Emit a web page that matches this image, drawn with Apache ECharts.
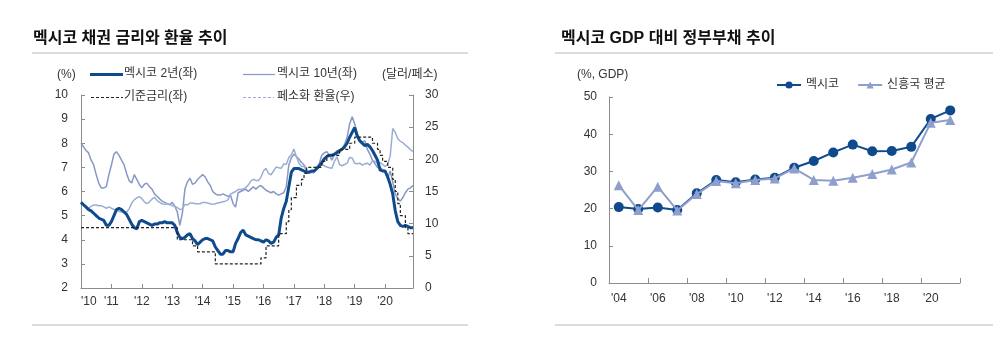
<!DOCTYPE html>
<html><head><meta charset="utf-8">
<script src="https://cdn.jsdelivr.net/npm/echarts@6/dist/echarts.min.js"></script>
<style>html,body{margin:0;padding:0;background:#fff}#c{width:1000px;height:338px}</style>
</head><body><div id="c"></div>
<script>
const FONT = '"Liberation Sans", Arial, "Noto Sans CJK KR", sans-serif';

// monthly categories Jan 2010 - Dec 2020
const months = [];
for (let y = 2010; y <= 2020; y++) for (let m = 1; m <= 12; m++) months.push(y + '-' + String(m).padStart(2, '0'));

// Mexico 2Y yield (%)
const mx2y = [
  5.55,5.45,5.35,5.25,5.20,5.10,5.00,4.90,4.85,4.80,4.60,4.60,
  4.75,5.00,5.25,5.30,5.25,5.15,5.05,4.85,4.65,4.50,4.45,4.75,
  4.80,4.75,4.70,4.65,4.60,4.65,4.65,4.70,4.70,4.75,4.70,4.70,
  4.70,4.60,4.30,4.10,4.05,4.10,4.20,4.25,4.05,3.95,3.80,3.90,
  4.00,4.05,4.05,4.00,3.95,3.70,3.55,3.40,3.40,3.55,3.55,3.50,
  3.50,3.85,4.05,4.30,4.40,4.20,4.15,4.10,4.05,4.00,4.00,3.95,
  3.90,4.00,3.95,3.85,3.90,4.10,4.20,4.90,5.30,5.60,6.20,6.80,
  6.95,6.95,6.95,6.90,6.85,6.80,6.80,6.85,6.85,6.95,7.05,7.20,
  7.35,7.45,7.50,7.50,7.55,7.60,7.70,7.75,7.85,8.00,8.25,8.45,
  8.65,8.30,8.10,8.00,7.90,7.95,7.85,7.70,7.50,7.30,6.90,6.85,
  6.85,6.60,6.30,5.90,5.20,4.75,4.60,4.55,4.60,4.55,4.50,4.50
];
// Mexico 10Y yield (%)
const mx10y = [
  8.00,7.85,7.70,7.60,7.30,7.10,6.70,6.35,6.15,6.15,6.20,6.70,
  7.10,7.55,7.65,7.50,7.30,7.10,6.75,6.45,6.35,6.70,6.50,6.30,
  6.15,6.30,6.35,6.20,6.10,5.90,5.80,5.70,5.60,5.55,5.50,5.45,
  5.55,5.40,5.15,4.60,5.10,6.10,6.40,6.55,6.30,6.35,6.50,6.60,
  6.70,6.60,6.40,6.25,6.00,5.90,5.85,5.85,5.90,5.85,5.80,5.85,
  5.50,5.35,5.95,6.00,6.05,6.10,6.00,6.10,6.20,6.10,6.20,6.25,
  6.15,6.05,6.00,5.95,6.00,5.90,5.85,5.90,5.95,6.20,7.10,7.40,
  7.55,7.45,7.35,7.20,7.10,6.90,6.80,6.80,6.80,7.00,7.15,7.50,
  7.60,7.65,7.50,7.30,7.55,7.70,7.60,7.75,7.95,8.25,8.80,9.10,
  8.80,8.40,8.15,8.05,8.10,7.75,7.55,7.30,7.15,7.00,7.00,6.90,
  6.80,6.55,6.85,6.40,5.90,5.70,5.60,5.75,5.95,6.10,6.15,6.25
];
// Banxico policy rate (%)
const policyRate = [
  4.5,4.5,4.5,4.5,4.5,4.5,4.5,4.5,4.5,4.5,4.5,4.5,
  4.5,4.5,4.5,4.5,4.5,4.5,4.5,4.5,4.5,4.5,4.5,4.5,
  4.5,4.5,4.5,4.5,4.5,4.5,4.5,4.5,4.5,4.5,4.5,4.5,
  4.5,4.5,4.0,4.0,4.0,4.0,4.0,4.0,3.75,3.75,3.5,3.5,
  3.5,3.5,3.5,3.5,3.5,3.0,3.0,3.0,3.0,3.0,3.0,3.0,
  3.0,3.0,3.0,3.0,3.0,3.0,3.0,3.0,3.0,3.0,3.0,3.25,
  3.25,3.75,3.75,3.75,3.75,3.75,4.25,4.25,4.25,4.75,5.25,5.75,
  5.75,6.25,6.25,6.5,6.75,7.0,7.0,7.0,7.0,7.0,7.0,7.25,
  7.25,7.5,7.5,7.5,7.5,7.5,7.75,7.75,7.75,7.75,8.0,8.0,
  8.25,8.25,8.25,8.25,8.25,8.25,8.25,8.0,8.0,7.75,7.5,7.25,
  7.25,7.0,7.0,6.5,6.0,5.5,5.0,5.0,4.5,4.25,4.25,4.25
];
// USD/MXN (right axis)
const usdMxn = [
  13.3,13.0,12.7,12.4,12.7,12.9,12.9,12.8,12.8,12.6,12.4,12.6,
  12.4,12.2,12.1,11.9,11.8,11.9,11.8,12.3,13.2,13.7,14.0,14.2,
  13.9,13.4,13.1,13.4,13.8,14.1,13.6,13.3,13.1,13.0,13.1,13.0,
  12.8,12.7,12.5,12.2,12.3,13.0,12.9,13.2,13.2,13.1,13.1,13.1,
  13.3,13.3,13.2,13.1,13.0,13.1,13.2,13.3,13.4,13.5,13.7,14.6,
  14.8,15.0,15.3,15.3,15.4,15.6,16.0,16.6,16.9,16.7,16.7,17.2,
  18.2,18.6,17.8,17.6,18.2,18.8,18.7,18.6,19.3,19.2,20.3,20.7,
  21.6,20.4,19.4,18.9,18.9,18.2,17.9,17.9,17.9,18.9,19.0,19.3,
  19.0,18.8,18.7,18.6,19.7,20.4,19.2,19.0,19.2,19.4,20.3,20.2,
  19.4,19.3,19.4,19.1,19.3,19.4,19.1,19.8,19.7,19.4,19.5,19.2,
  18.9,19.2,20.5,24.8,24.2,23.2,22.8,22.6,22.2,21.9,21.5,21.2
];

// Government debt to GDP (%)
const debtYears = ['2004','2005','2006','2007','2008','2009','2010','2011','2012','2013','2014','2015','2016','2017','2018','2019','2020','2021'];
const mexicoDebt = [20.4,19.9,20.3,19.6,24.1,27.7,27.1,27.8,28.3,31.0,32.8,35.1,37.2,35.4,35.5,36.6,44.1,46.4];
const emDebt     = [26.3,19.6,25.9,19.5,23.9,27.4,26.8,27.7,28.1,30.8,27.7,27.5,28.3,29.3,30.5,32.4,43.1,43.8];

const C_DARK = '#0e4a8c', C_10Y = '#8797c6', C_FX = '#9cadd5', C_EM = '#8f9fcd';
const AX = '#8c8c8c', TXT = '#333';

const chart = echarts.init(document.getElementById('c'), null, {renderer: 'canvas'});
const axisCommon = {
  axisLine: {show: true, lineStyle: {color: AX, width: 1}},
  axisTick: {show: true, inside: true, length: 4, lineStyle: {color: AX}},
  axisLabel: {color: TXT, fontSize: 12, fontFamily: FONT},
  splitLine: {show: false}
};
const legendCommon = {padding: 0, textStyle: {color: TXT, fontSize: 12, fontFamily: FONT}, selectedMode: false};
// left-chart legend: text from legend component, sample lines drawn below as graphics
const hiddenIcon = {itemStyle: {opacity: 0}};

function sampleLine(x1, x2, y, color, width, dash) {
  return {type: 'line', shape: {x1: x1, y1: y, x2: x2, y2: y},
    style: {stroke: color, lineWidth: width, lineDash: dash || null}, z: 10};
}

chart.setOption({
  animation: false,
  backgroundColor: '#fff',
  grid: [
    {left: 81, right: 587, top: 95, bottom: 50},
    {left: 609, right: 40, top: 97, bottom: 55}
  ],
  xAxis: [
    Object.assign({}, axisCommon, {
      type: 'category', gridIndex: 0, data: months, boundaryGap: false,
      axisTick: {show: true, inside: true, length: 4, lineStyle: {color: AX}, interval: (i) => i % 12 === 0},
      axisLabel: {color: TXT, fontSize: 12, fontFamily: FONT, margin: 8, alignMinLabel: 'left',
        interval: (i) => i % 12 === 0, formatter: (v) => "'" + v.slice(2, 4)}
    }),
    Object.assign({}, axisCommon, {
      type: 'category', gridIndex: 1, data: debtYears, boundaryGap: true,
      axisTick: {show: true, inside: true, length: 5, interval: 1, lineStyle: {color: AX}},
      axisLabel: {color: TXT, fontSize: 12, fontFamily: FONT, margin: 10, interval: 1, formatter: (v) => "'" + v.slice(2)}
    })
  ],
  yAxis: [
    Object.assign({}, axisCommon, {type: 'value', gridIndex: 0, position: 'left', min: 2, max: 10, interval: 1,
      axisLabel: {color: TXT, fontSize: 12, fontFamily: FONT, margin: 13}}),
    Object.assign({}, axisCommon, {type: 'value', gridIndex: 0, position: 'right', min: 0, max: 30, interval: 5,
      axisLabel: {color: TXT, fontSize: 12, fontFamily: FONT, margin: 12}}),
    Object.assign({}, axisCommon, {type: 'value', gridIndex: 1, position: 'left', min: 0, max: 50, interval: 10,
      axisLabel: {color: TXT, fontSize: 12, fontFamily: FONT, margin: 12}})
  ],
  legend: [
    Object.assign({}, legendCommon, {left: 89, top: 68, itemWidth: 30, itemHeight: 8,
      data: [Object.assign({name: '멕시코 2년(좌)', icon: 'rect'}, hiddenIcon)]}),
    Object.assign({}, legendCommon, {left: 242, top: 68, itemWidth: 30, itemHeight: 8,
      data: [Object.assign({name: '멕시코 10년(좌)', icon: 'rect'}, hiddenIcon)]}),
    Object.assign({}, legendCommon, {left: 89, top: 91, itemWidth: 30, itemHeight: 8,
      data: [Object.assign({name: '기준금리(좌)', icon: 'rect'}, hiddenIcon)]}),
    Object.assign({}, legendCommon, {left: 242, top: 91, itemWidth: 30, itemHeight: 8,
      data: [Object.assign({name: '페소화 환율(우)', icon: 'rect'}, hiddenIcon)]}),
    Object.assign({}, legendCommon, {left: 776, top: 79, itemWidth: 24, itemHeight: 9, itemGap: 18,
      data: [{name: '멕시코'}, {name: '신흥국 평균'}]})
  ],
  graphic: [
    {type: 'text', left: 33, top: 31, style: {text: '멕시코 채권 금리와 환율 추이', font: 'bold 16px ' + FONT, fill: '#111'}},
    {type: 'text', left: 561, top: 31, style: {text: '멕시코 GDP 대비 정부부채 추이', font: 'bold 16px ' + FONT, fill: '#111'}},
    {type: 'line', shape: {x1: 32, y1: 53, x2: 468, y2: 53}, style: {stroke: '#cfcfcf', lineWidth: 1.5}},
    {type: 'line', shape: {x1: 555, y1: 53, x2: 993, y2: 53}, style: {stroke: '#cfcfcf', lineWidth: 1.5}},
    {type: 'line', shape: {x1: 32, y1: 325, x2: 468, y2: 325}, style: {stroke: '#cfcfcf', lineWidth: 1.5}},
    {type: 'line', shape: {x1: 555, y1: 325, x2: 993, y2: 325}, style: {stroke: '#cfcfcf', lineWidth: 1.5}},
    {type: 'text', left: 57, top: 69, style: {text: '(%)', font: '12px ' + FONT, fill: TXT}},
    {type: 'text', left: 382, top: 69, style: {text: '(달러/페소)', font: '12px ' + FONT, fill: TXT}},
    {type: 'text', left: 577, top: 69, style: {text: '(%, GDP)', font: '12px ' + FONT, fill: TXT}},
    sampleLine(90, 123, 74.5, C_DARK, 3),
    sampleLine(243, 275, 74.5, C_10Y, 1.2),
    sampleLine(91, 123, 97.5, '#222', 1.2, [3, 2]),
    sampleLine(243, 274, 97.5, C_FX, 1.2, [3, 2])
  ],
  series: [
    {name: '멕시코 10년(좌)', type: 'line', xAxisIndex: 0, yAxisIndex: 0, data: mx10y, symbol: 'none',
      lineStyle: {color: C_10Y, width: 1.5}, itemStyle: {color: C_10Y}, z: 2},
    {name: '페소화 환율(우)', type: 'line', xAxisIndex: 0, yAxisIndex: 1, data: usdMxn, symbol: 'none',
      lineStyle: {color: C_FX, width: 1.5}, itemStyle: {color: C_FX}, z: 2},
    {name: '멕시코 2년(좌)', type: 'line', xAxisIndex: 0, yAxisIndex: 0, data: mx2y, symbol: 'none',
      lineStyle: {color: C_DARK, width: 3}, itemStyle: {color: C_DARK}, z: 3},
    {name: '기준금리(좌)', type: 'line', xAxisIndex: 0, yAxisIndex: 0, data: policyRate, symbol: 'none', step: 'end',
      lineStyle: {color: '#222', width: 1.2, type: [3, 2]}, itemStyle: {color: '#222'}, z: 4},
    {name: '멕시코', type: 'line', xAxisIndex: 1, yAxisIndex: 2, data: mexicoDebt, symbol: 'circle', symbolSize: 10,
      lineStyle: {color: C_DARK, width: 2}, itemStyle: {color: C_DARK}, z: 3},
    {name: '신흥국 평균', type: 'line', xAxisIndex: 1, yAxisIndex: 2, data: emDebt, symbol: 'triangle', symbolSize: 10,
      lineStyle: {color: C_EM, width: 2}, itemStyle: {color: C_EM}, z: 4}
  ]
});
</script></body></html>
